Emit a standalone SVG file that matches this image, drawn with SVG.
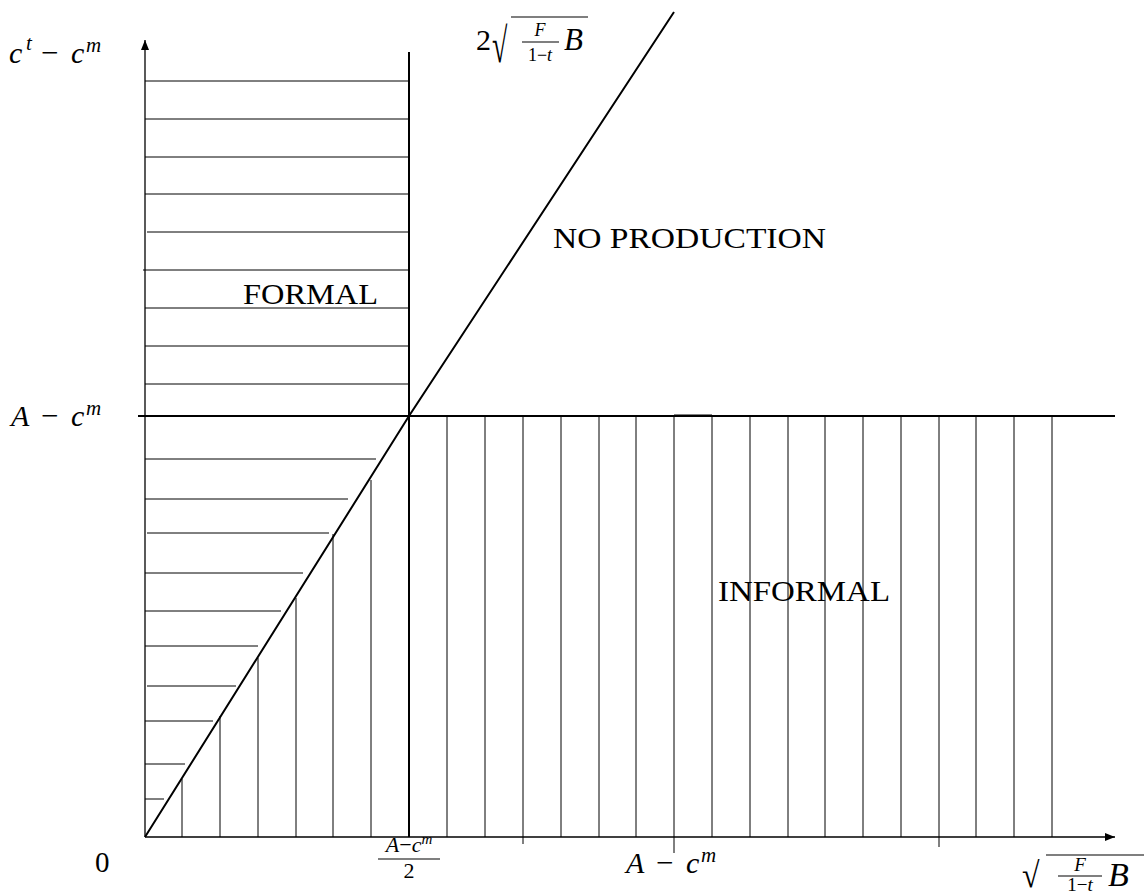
<svg xmlns="http://www.w3.org/2000/svg" width="1144" height="894" viewBox="0 0 1144 894">
<style>
.hatch{stroke:#000;stroke-width:1;fill:none}
.axis{stroke:#000;stroke-width:1.3;fill:none}
.main{stroke:#000;stroke-width:2;fill:none}
.t{font-family:"Liberation Serif","DejaVu Serif",serif;fill:#000}
.i{font-style:italic}
.bar{stroke:#000;stroke-width:1.2}
</style>
<defs>
<marker id="arr" markerWidth="10" markerHeight="8" refX="10" refY="4" orient="auto" markerUnits="userSpaceOnUse">
<path d="M0,0 L10,4 L0,8 Z" fill="#000"/>
</marker>
</defs>
<rect width="1144" height="894" fill="#fff"/>
<g id="hatching">
<g id="formal-top" class="hatch">
<line x1="145" y1="81" x2="408" y2="81"/>
<line x1="145" y1="119" x2="408" y2="119"/>
<line x1="145" y1="157" x2="408" y2="157"/>
<line x1="145" y1="194" x2="408" y2="194"/>
<line x1="147" y1="232" x2="408" y2="232"/>
<line x1="143" y1="270" x2="408" y2="270"/>
<line x1="145" y1="308" x2="408" y2="308"/>
<line x1="145" y1="346" x2="408" y2="346"/>
<line x1="145" y1="384" x2="408" y2="384"/>
</g>
<g id="formal-bottom" class="hatch">
<line x1="145" y1="459" x2="376" y2="459"/>
<line x1="145" y1="499" x2="348" y2="499"/>
<line x1="147" y1="533" x2="329" y2="533"/>
<line x1="145" y1="573" x2="303" y2="573"/>
<line x1="145" y1="611" x2="281" y2="611"/>
<line x1="145" y1="646" x2="258" y2="646"/>
<line x1="147" y1="686" x2="236" y2="686"/>
<line x1="145" y1="721" x2="213" y2="721"/>
<line x1="145" y1="764" x2="185" y2="764"/>
<line x1="145" y1="799" x2="164" y2="799"/>
</g>
<g id="informal-triangle" class="hatch">
<line x1="182" y1="779" x2="182" y2="837"/>
<line x1="220" y1="716" x2="220" y2="837"/>
<line x1="258" y1="658" x2="258" y2="837"/>
<line x1="296" y1="598" x2="296" y2="837"/>
<line x1="333" y1="534" x2="333" y2="837"/>
<line x1="371" y1="480" x2="371" y2="837"/>
</g>
<g id="informal-right" class="hatch">
<line x1="447" y1="416" x2="447" y2="837"/>
<line x1="485" y1="416" x2="485" y2="837"/>
<line x1="523" y1="416" x2="523" y2="844"/>
<line x1="561" y1="416" x2="561" y2="837"/>
<line x1="599" y1="416" x2="599" y2="837"/>
<line x1="636" y1="416" x2="636" y2="837"/>
<line x1="674" y1="416" x2="674" y2="853"/>
<line x1="712" y1="416" x2="712" y2="837"/>
<line x1="750" y1="416" x2="750" y2="837"/>
<line x1="788" y1="416" x2="788" y2="837"/>
<line x1="825" y1="416" x2="825" y2="837"/>
<line x1="863" y1="416" x2="863" y2="837"/>
<line x1="901" y1="416" x2="901" y2="837"/>
<line x1="939" y1="416" x2="939" y2="847"/>
<line x1="976" y1="416" x2="976" y2="837"/>
<line x1="1014" y1="416" x2="1014" y2="837"/>
<line x1="1052" y1="416" x2="1052" y2="837"/>
</g>
</g>
<g id="connectors">
<line id="y-axis" class="axis" x1="145" y1="837" x2="145" y2="40" marker-end="url(#arr)"/>
<line id="x-axis" class="axis" x1="145" y1="837" x2="1115" y2="837" marker-end="url(#arr)"/>
<line id="boundary-vertical" class="main" x1="409" y1="52" x2="409" y2="837"/>
<line id="boundary-horizontal" class="main" x1="138" y1="416" x2="1115" y2="416"/>
<line class="hatch" x1="674" y1="415" x2="712" y2="415"/>
<polyline id="boundary-diagonal" class="main" points="145,837 409,416 674,12"/>
</g>
<g id="region-formal"><text class="t" x="243" y="304" font-size="30" textLength="135" lengthAdjust="spacingAndGlyphs">FORMAL</text></g>
<g id="region-noproduction"><text class="t" x="553" y="248" font-size="30" textLength="273" lengthAdjust="spacingAndGlyphs">NO PRODUCTION</text></g>
<g id="region-informal"><text class="t" x="718" y="601" font-size="30" textLength="172" lengthAdjust="spacingAndGlyphs">INFORMAL</text></g>
<g id="label-y-axis">
<text class="t i" x="9" y="63" font-size="30">c</text>
<text class="t i" x="26" y="50" font-size="21">t</text>
<text class="t" x="41" y="63" font-size="31">−</text>
<text class="t i" x="71" y="63" font-size="30">c</text>
<text class="t i" x="86" y="52" font-size="21">m</text>
</g>
<g id="label-y-tick">
<text class="t i" x="11" y="426" font-size="30">A</text>
<text class="t" x="41" y="426" font-size="31">−</text>
<text class="t i" x="71" y="426" font-size="30">c</text>
<text class="t i" x="86" y="415" font-size="21">m</text>
</g>
<g id="label-diagonal">
<text class="t" x="476" y="50" font-size="30">2</text>
<text class="t" x="0" y="0" font-size="28" transform="translate(492,62) scale(1,1.75)">√</text>
<line x1="511" y1="17" x2="588" y2="17" class="bar"/>
<text class="t i" x="540" y="36" font-size="18" text-anchor="middle">F</text>
<line x1="522" y1="42" x2="559" y2="42" class="bar"/>
<text class="t" x="540" y="61" font-size="18" text-anchor="middle">1−<tspan font-style="italic">t</tspan></text>
<text class="t i" x="564" y="50" font-size="31">B</text>
</g>
<g id="label-origin"><text class="t" x="95" y="872" font-size="29">0</text></g>
<g id="label-x-half">
<text class="t" x="409" y="852" font-size="22" text-anchor="middle"><tspan font-style="italic">A</tspan>−<tspan font-style="italic">c</tspan><tspan font-style="italic" font-size="15" dy="-8">m</tspan></text>
<line x1="378" y1="859" x2="440" y2="859" class="bar"/>
<text class="t" x="409" y="878" font-size="22" text-anchor="middle">2</text>
</g>
<g id="label-x-tick">
<text class="t i" x="626" y="873" font-size="30">A</text>
<text class="t" x="656" y="873" font-size="31">−</text>
<text class="t i" x="686" y="873" font-size="30">c</text>
<text class="t i" x="701" y="862" font-size="21">m</text>
</g>
<g id="label-x-axis">
<text class="t" x="0" y="0" font-size="32" transform="translate(1022,887) scale(1,1.12)">√</text>
<line x1="1046" y1="855" x2="1144" y2="855" class="bar"/>
<text class="t i" x="1080" y="871" font-size="19" text-anchor="middle">F</text>
<line x1="1058" y1="876" x2="1102" y2="876" class="bar"/>
<text class="t" x="1080" y="891" font-size="19" text-anchor="middle">1−<tspan font-style="italic">t</tspan></text>
<text class="t i" x="1108" y="886" font-size="34">B</text>
</g>
</svg>
